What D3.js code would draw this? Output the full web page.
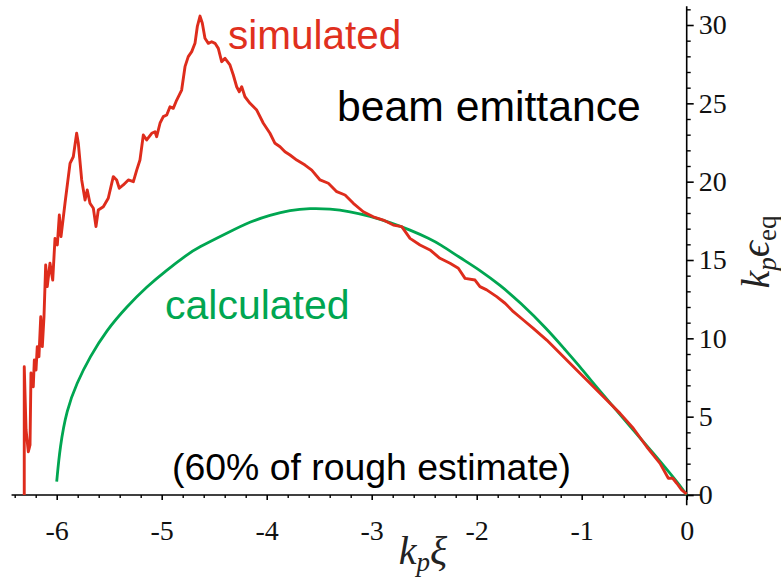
<!DOCTYPE html>
<html>
<head>
<meta charset="utf-8">
<script src="https://cdn.jsdelivr.net/npm/d3@7"></script>
<style>
  html, body { margin: 0; padding: 0; background: #fff; }
  svg { display: block; }
  svg text.serif { font-family: "Liberation Serif", "Times New Roman", Times, serif; }
</style>
</head>
<body>
<svg id="chart" width="781" height="580"></svg>
<script>
// Simulated beam emittance along k_p xi
const simX = [-6.309, -6.309, -6.292, -6.270, -6.254, -6.245, -6.223, -6.213, -6.197, -6.185,
  -6.169, -6.152, -6.137, -6.121, -6.105, -6.090, -6.064, -6.038, -6.016, -5.994,
  -5.975, -5.959, -5.921, -5.873, -5.842, -5.810, -5.794, -5.762, -5.730, -5.709,
  -5.683, -5.651, -5.626, -5.604, -5.556, -5.509, -5.461, -5.429, -5.404, -5.366,
  -5.318, -5.270, -5.238, -5.207, -5.175, -5.143, -5.095, -5.064, -5.048, -5.016,
  -4.985, -4.952, -4.921, -4.890, -4.857, -4.810, -4.778, -4.747, -4.714, -4.683,
  -4.661, -4.635, -4.613, -4.588, -4.556, -4.524, -4.492, -4.461, -4.429, -4.397,
  -4.350, -4.318, -4.286, -4.261, -4.238, -4.207, -4.159, -4.095, -4.032, -3.969,
  -3.921, -3.873, -3.826, -3.778, -3.714, -3.635, -3.571, -3.492, -3.413, -3.333,
  -3.254, -3.175, -3.080, -2.985, -2.890, -2.794, -2.714, -2.635, -2.540, -2.445,
  -2.350, -2.254, -2.175, -2.111, -2.016, -1.969, -1.905, -1.810, -1.730, -1.651,
  -1.556, -1.461, -1.333, -1.238, -1.143, -1.048, -0.952, -0.857, -0.762, -0.635,
  -0.509, -0.381, -0.254, -0.175, -0.133, -0.095, -0.048, 0.0];
const simY = [0.00, 8.19, 4.15, 2.76, 3.19, 7.79, 6.91, 8.62, 7.98, 9.47,
  8.83, 11.38, 9.47, 11.38, 14.68, 13.30, 14.79, 13.72, 16.38, 15.96,
  17.87, 16.49, 18.62, 21.17, 21.59, 23.09, 22.45, 20.11, 18.83, 19.47,
  18.62, 18.30, 17.13, 18.19, 18.40, 18.94, 20.32, 20.11, 19.58, 19.79,
  20.11, 20.00, 20.74, 21.38, 22.98, 22.66, 23.09, 23.19, 22.87, 23.73,
  24.15, 24.26, 24.78, 24.68, 25.21, 25.85, 27.34, 27.98, 28.30, 28.83,
  29.89, 30.57, 30.11, 29.15, 28.83, 28.93, 28.83, 28.51, 27.66, 27.87,
  27.45, 26.81, 26.06, 25.74, 26.06, 25.42, 25.00, 24.57, 23.73, 23.09,
  22.45, 22.23, 21.91, 21.70, 21.38, 21.06, 20.74, 20.11, 19.90, 19.36,
  19.15, 18.62, 18.08, 17.76, 17.55, 17.23, 17.13, 16.38, 15.96, 15.64,
  15.11, 14.79, 14.47, 13.83, 13.72, 13.30, 13.09, 12.66, 12.24, 11.70,
  11.17, 10.64, 9.89, 9.26, 8.62, 7.98, 7.34, 6.70, 6.06, 5.21,
  4.26, 3.08, 2.02, 1.07, 1.07, 0.75, 0.32, 0.06];

// Calculated emittance curve
const calcX = [-6.000, -5.969, -5.905, -5.810, -5.683, -5.524, -5.333, -5.143, -4.952, -4.762,
  -4.667, -4.350, -4.160, -3.969, -3.778, -3.587, -3.397, -3.207, -3.016, -2.826,
  -2.635, -2.445, -2.350, -2.159, -1.969, -1.778, -1.587, -1.333, -1.159, -1.016,
  -0.890, -0.699, -0.509, -0.318, -0.159, -0.032, 0.0];
const calcY = [0.85, 3.08, 5.43, 7.13, 8.83, 10.53, 12.02, 13.30, 14.36, 15.32,
  15.75, 16.81, 17.44, 17.87, 18.19, 18.30, 18.27, 18.10, 17.80, 17.40,
  16.92, 16.35, 16.00, 15.15, 14.35, 13.40, 12.30, 10.62, 9.28, 8.19,
  7.13, 5.64, 4.15, 2.66, 1.39, 0.32, 0.00];

const xMajor = [-6, -5, -4, -3, -2, -1, 0];
const yMajor = [0, 5, 10, 15, 20, 25, 30];

const svg = d3.select("#chart");
const sans = "'Liberation Sans', Arial, Helvetica, sans-serif";

const x = d3.scaleLinear().domain([-6, 0]).range([56.7, 686.7]);
const y = d3.scaleLinear().domain([0, 30]).range([495, 25]);

const xMinor = d3.range(-32, 1).map(i => i / 5).filter(v => !xMajor.some(m => Math.abs(m - v) < 1e-9));
const yMinor = d3.range(0, 32).filter(v => v % 5 !== 0);

// Axis lines (they run slightly past each other at the corner)
svg.append("line")
  .attr("x1", x(-6.43)).attr("x2", x(0.13))
  .attr("y1", y(0)).attr("y2", y(0))
  .attr("stroke", "#000").attr("stroke-width", 1.6);
svg.append("line")
  .attr("x1", x(0)).attr("x2", x(0))
  .attr("y1", y(31.2)).attr("y2", y(-0.65))
  .attr("stroke", "#000").attr("stroke-width", 1.6);

// Bottom axis: major ticks with labels, minor ticks
const gx = svg.append("g").attr("transform", `translate(0,${y(0)})`);
gx.call(d3.axisBottom(x).tickValues(xMajor).tickSize(5).tickPadding(20)
  .tickFormat(d => String(d)));
gx.call(g => g.select(".domain").remove());
gx.attr("font-family", null);
gx.selectAll(".tick line").attr("stroke-width", 1.6);
gx.selectAll(".tick text").classed("serif", true).attr("font-size", 28).attr("fill", "#111");

const gxm = svg.append("g").attr("transform", `translate(0,${y(0)})`);
gxm.call(d3.axisBottom(x).tickValues(xMinor).tickSize(3).tickFormat(""));
gxm.call(g => g.select(".domain").remove());
gxm.selectAll(".tick line").attr("stroke-width", 1.4);

// Right axis
const gy = svg.append("g").attr("transform", `translate(${x(0)},0)`);
gy.call(d3.axisRight(y).tickValues(yMajor).tickSize(7).tickPadding(5)
  .tickFormat(d => String(d)));
gy.call(g => g.select(".domain").remove());
gy.attr("font-family", null);
gy.selectAll(".tick line").attr("stroke-width", 1.6);
gy.selectAll(".tick text").classed("serif", true).attr("font-size", 28).attr("fill", "#111");

const gym = svg.append("g").attr("transform", `translate(${x(0)},0)`);
gym.call(d3.axisRight(y).tickValues(yMinor).tickSize(4).tickFormat(""));
gym.call(g => g.select(".domain").remove());
gym.selectAll(".tick line").attr("stroke-width", 1.4);

// Curves
const calcPts = calcX.map((v, i) => [v, calcY[i]]);
const simPts = simX.map((v, i) => [v, simY[i]]);

svg.append("path")
  .attr("d", d3.line().curve(d3.curveBasis).x(d => x(d[0])).y(d => y(d[1]))(calcPts))
  .attr("fill", "none").attr("stroke", "#00a651").attr("stroke-width", 2.8);

svg.append("path")
  .attr("d", d3.line().x(d => x(d[0])).y(d => y(d[1]))(simPts))
  .attr("fill", "none").attr("stroke", "#de2c1c").attr("stroke-width", 2.9)
  .attr("stroke-linejoin", "round");

// Annotations
svg.append("text").attr("x", 228).attr("y", 49).text("simulated")
  .attr("font-family", sans).attr("font-size", 40.5).attr("fill", "#e0301e");
svg.append("text").attr("x", 337).attr("y", 121).text("beam emittance")
  .attr("font-family", sans).attr("font-size", 42.7).attr("fill", "#000");
svg.append("text").attr("x", 165).attr("y", 319).text("calculated")
  .attr("font-family", sans).attr("font-size", 41).attr("fill", "#00a651");
svg.append("text").attr("x", 172).attr("y", 480).text("(60% of rough estimate)")
  .attr("font-family", sans).attr("font-size", 37.4).attr("fill", "#000");

// Axis titles
const xt = svg.append("text").attr("class", "serif").attr("x", 423).attr("y", 564)
  .attr("text-anchor", "middle").attr("font-style", "italic")
  .attr("font-size", 40).attr("fill", "#222");
xt.append("tspan").text("k");
xt.append("tspan").text("p").attr("font-size", 27).attr("dy", 7);
xt.append("tspan").text("ξ").attr("dy", -7);

const yt = svg.append("text").attr("class", "serif")
  .attr("transform", "translate(769,252) rotate(-90)")
  .attr("text-anchor", "middle").attr("font-style", "italic")
  .attr("font-size", 40).attr("fill", "#222");
yt.append("tspan").text("k");
yt.append("tspan").text("p").attr("font-size", 27).attr("dy", 7);
yt.append("tspan").text("ϵ").attr("dy", -7);
yt.append("tspan").text("eq").attr("font-size", 27).attr("dy", 7).attr("font-style", "normal");
</script>
</body>
</html>
